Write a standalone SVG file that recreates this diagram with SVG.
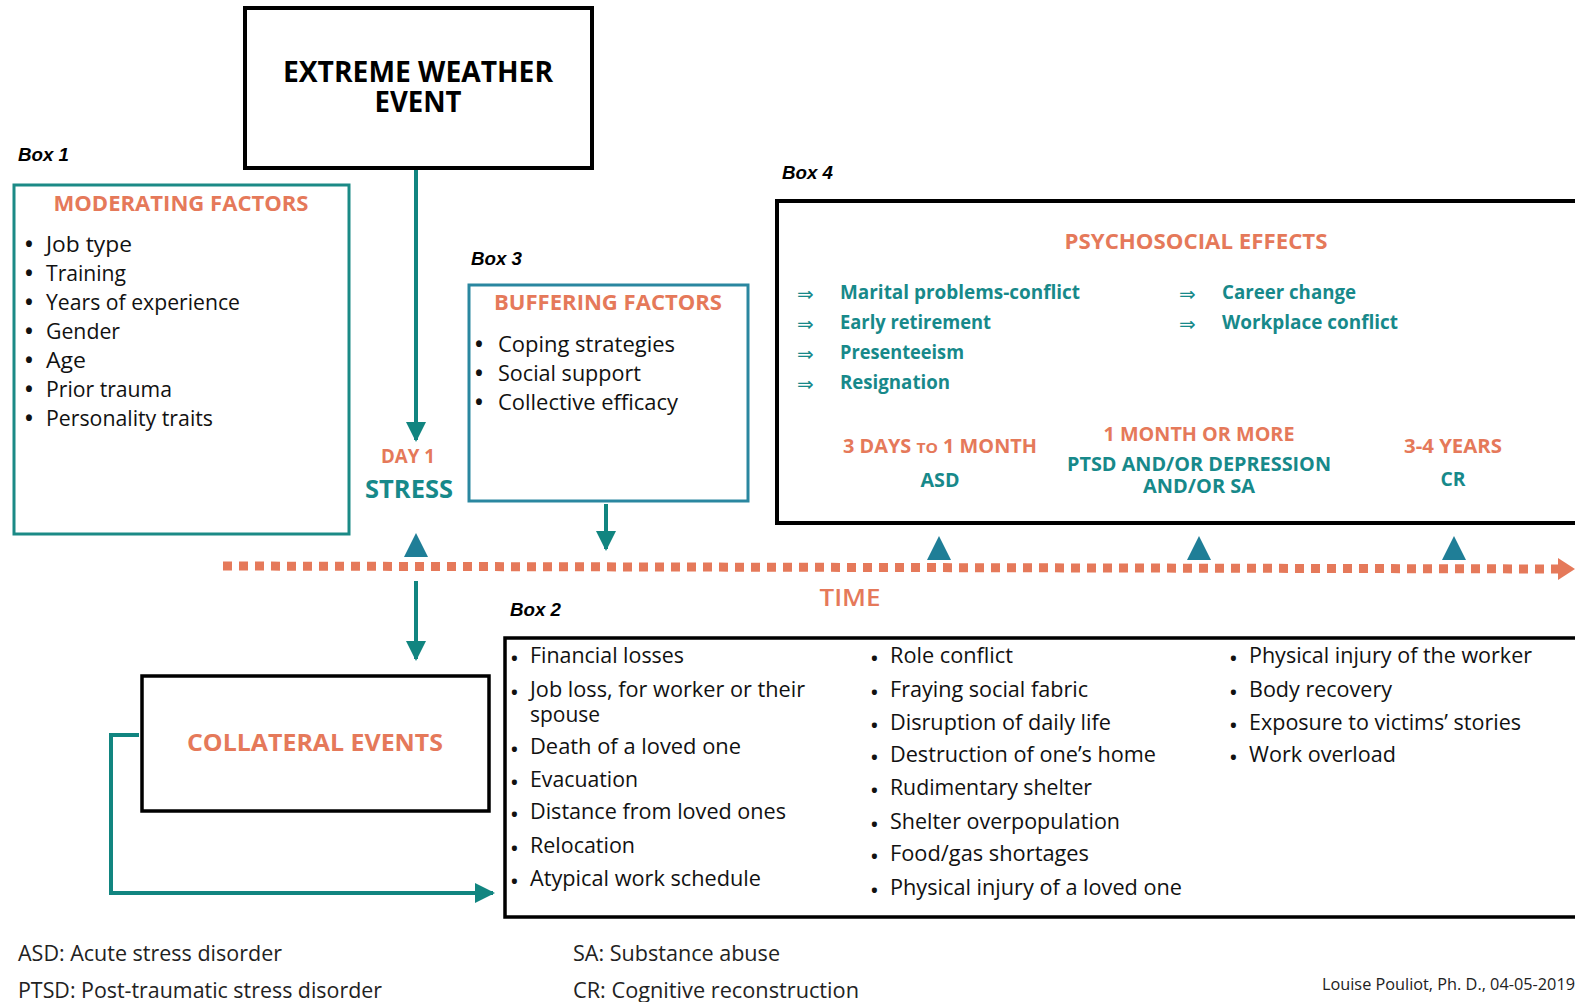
<svg xmlns="http://www.w3.org/2000/svg" width="1575" height="1002" viewBox="0 0 1575 1002">
<style>
  text { font-family: "Open Sans", "Noto Sans", "DejaVu Sans", sans-serif; }
  .lbl { font-family: "Liberation Sans", Arial, sans-serif; font-weight: bold; font-style: italic; font-size: 19px; fill: #000; }
  .title { font-weight: bold; font-size: 28px; fill: #000; }
  .hd { font-weight: bold; font-size: 21px; fill: #e5795a; }
  .item { font-size: 22px; fill: #111; }
  .bul { font-size: 21px; font-weight: bold; fill: #111; }
  .bul2 { font-size: 18px; font-weight: bold; fill: #111; }
  .eff { font-weight: bold; font-size: 19px; fill: #17898a; }
  .arr { font-size: 20px; fill: #17898a; }
  .tco { font-weight: bold; font-size: 19px; fill: #e5795a; }
  .tte { font-weight: bold; font-size: 19px; fill: #17898a; }
  .leg { font-size: 21px; fill: #222; }
  .blk { fill: none; stroke: #000; }
  .conn { stroke: #118580; stroke-width: 4; fill: none; }
  .tri { fill: #1f7e97; }
</style>
<defs>
  <marker id="ah" viewBox="0 0 10 10" refX="9" refY="5" markerWidth="5" markerHeight="5" orient="auto" markerUnits="strokeWidth">
    <path d="M0,0 L10,5 L0,10 z" fill="#118580"/>
  </marker>
</defs>
<rect width="1575" height="1002" fill="#fff"/>

<!-- Connectors -->
<g id="connectors">
  <line class="conn" x1="416" y1="170" x2="416" y2="440" marker-end="url(#ah)"/>
  <line class="conn" x1="606" y1="504" x2="606" y2="549" marker-end="url(#ah)"/>
  <line class="conn" x1="416" y1="581" x2="416" y2="659" marker-end="url(#ah)"/>
  <polyline class="conn" points="139,735 111,735 111,893 493,893" marker-end="url(#ah)"/>
  <!-- timeline -->
  <line x1="223" y1="566" x2="1560" y2="569" stroke="#e5795a" stroke-width="9" stroke-dasharray="9 7"/>
  <polygon points="1558,558 1575,569 1558,580" fill="#e5795a"/>
  <polygon class="tri" points="416,533 404,557 428,557"/>
  <polygon class="tri" points="939,536 927,560 951,560"/>
  <polygon class="tri" points="1199,536 1187,560 1211,560"/>
  <polygon class="tri" points="1454,536 1442,560 1466,560"/>
</g>

<!-- Extreme weather event -->
<g id="extreme-weather">
  <rect class="blk" x="245" y="8" width="347" height="160" stroke-width="4"/>
  <text class="title" x="418" y="82" text-anchor="middle" textLength="270" lengthAdjust="spacingAndGlyphs">EXTREME WEATHER</text>
  <text class="title" x="418" y="112" text-anchor="middle" textLength="87" lengthAdjust="spacingAndGlyphs">EVENT</text>
</g>

<!-- Box 1 -->
<g id="box1">
  <text class="lbl" x="18" y="161" textLength="51" lengthAdjust="spacingAndGlyphs">Box 1</text>
  <rect x="14" y="185" width="335" height="349" fill="none" stroke="#1b8a86" stroke-width="3"/>
  <text class="hd" x="181" y="211" text-anchor="middle" textLength="255" lengthAdjust="spacingAndGlyphs">MODERATING FACTORS</text>
  <g>
    <text class="bul" x="25" y="252">•</text><text class="item" x="46" y="252" textLength="86" lengthAdjust="spacingAndGlyphs">Job type</text>
    <text class="bul" x="25" y="281">•</text><text class="item" x="46" y="281" textLength="80" lengthAdjust="spacingAndGlyphs">Training</text>
    <text class="bul" x="25" y="310">•</text><text class="item" x="46" y="310" textLength="194" lengthAdjust="spacingAndGlyphs">Years of experience</text>
    <text class="bul" x="25" y="339">•</text><text class="item" x="46" y="339" textLength="74" lengthAdjust="spacingAndGlyphs">Gender</text>
    <text class="bul" x="25" y="368">•</text><text class="item" x="46" y="368" textLength="40" lengthAdjust="spacingAndGlyphs">Age</text>
    <text class="bul" x="25" y="397">•</text><text class="item" x="46" y="397" textLength="126" lengthAdjust="spacingAndGlyphs">Prior trauma</text>
    <text class="bul" x="25" y="426">•</text><text class="item" x="46" y="426" textLength="167" lengthAdjust="spacingAndGlyphs">Personality traits</text>
  </g>
</g>

<!-- Day 1 stress -->
<g id="stress">
  <text class="tco" x="408" y="463" text-anchor="middle" font-size="18" textLength="54" lengthAdjust="spacingAndGlyphs">DAY 1</text>
  <text x="409" y="498" text-anchor="middle" font-weight="bold" font-size="25" fill="#17898a" textLength="88" lengthAdjust="spacingAndGlyphs">STRESS</text>
</g>

<!-- Box 3 -->
<g id="box3">
  <text class="lbl" x="471" y="265" textLength="51" lengthAdjust="spacingAndGlyphs">Box 3</text>
  <rect x="469" y="285" width="279" height="216" fill="none" stroke="#2a87a0" stroke-width="3"/>
  <text class="hd" x="608" y="310" text-anchor="middle" textLength="228" lengthAdjust="spacingAndGlyphs">BUFFERING FACTORS</text>
  <text class="bul" x="475" y="352">•</text><text class="item" x="498" y="352" textLength="177" lengthAdjust="spacingAndGlyphs">Coping strategies</text>
  <text class="bul" x="475" y="381">•</text><text class="item" x="498" y="381" textLength="143" lengthAdjust="spacingAndGlyphs">Social support</text>
  <text class="bul" x="475" y="410">•</text><text class="item" x="498" y="410" textLength="180" lengthAdjust="spacingAndGlyphs">Collective efficacy</text>
</g>

<!-- Box 4 -->
<g id="box4">
  <text class="lbl" x="782" y="179" textLength="51" lengthAdjust="spacingAndGlyphs">Box 4</text>
  <rect class="blk" x="777" y="201" width="810" height="322" stroke-width="4"/>
  <text class="hd" x="1196" y="249" text-anchor="middle" textLength="263" lengthAdjust="spacingAndGlyphs">PSYCHOSOCIAL EFFECTS</text>
  <text class="arr" x="797" y="301">⇒</text><text class="eff" x="840" y="299" textLength="240" lengthAdjust="spacingAndGlyphs">Marital problems-conflict</text>
  <text class="arr" x="797" y="331">⇒</text><text class="eff" x="840" y="329" textLength="151" lengthAdjust="spacingAndGlyphs">Early retirement</text>
  <text class="arr" x="797" y="361">⇒</text><text class="eff" x="840" y="359" textLength="124" lengthAdjust="spacingAndGlyphs">Presenteeism</text>
  <text class="arr" x="797" y="391">⇒</text><text class="eff" x="840" y="389" textLength="110" lengthAdjust="spacingAndGlyphs">Resignation</text>
  <text class="arr" x="1179" y="301">⇒</text><text class="eff" x="1222" y="299" textLength="134" lengthAdjust="spacingAndGlyphs">Career change</text>
  <text class="arr" x="1179" y="331">⇒</text><text class="eff" x="1222" y="329" textLength="176" lengthAdjust="spacingAndGlyphs">Workplace conflict</text>

  <text class="tco" x="940" y="453" text-anchor="middle" textLength="194" lengthAdjust="spacingAndGlyphs">3 DAYS <tspan font-size="15">TO</tspan> 1 MONTH</text>
  <text class="tte" x="940" y="487" text-anchor="middle" textLength="39" lengthAdjust="spacingAndGlyphs">ASD</text>
  <text class="tco" x="1199" y="441" text-anchor="middle" textLength="191" lengthAdjust="spacingAndGlyphs">1 MONTH OR MORE</text>
  <text class="tte" x="1199" y="471" text-anchor="middle" textLength="264" lengthAdjust="spacingAndGlyphs">PTSD AND/OR DEPRESSION</text>
  <text class="tte" x="1199" y="493" text-anchor="middle" textLength="112" lengthAdjust="spacingAndGlyphs">AND/OR SA</text>
  <text class="tco" x="1453" y="453" text-anchor="middle" textLength="98" lengthAdjust="spacingAndGlyphs">3-4 YEARS</text>
  <text class="tte" x="1453" y="486" text-anchor="middle" textLength="25" lengthAdjust="spacingAndGlyphs">CR</text>
</g>

<!-- Time label -->
<g id="time">
  <text x="850" y="606" text-anchor="middle" font-size="23" font-weight="600" fill="#e5795a" textLength="61" lengthAdjust="spacingAndGlyphs">TIME</text>
</g>

<!-- Collateral events -->
<g id="collateral-events">
  <rect class="blk" x="142" y="676" width="347" height="135" stroke-width="3.5"/>
  <text x="315" y="751" text-anchor="middle" font-weight="bold" font-size="23" fill="#e5795a" textLength="256" lengthAdjust="spacingAndGlyphs">COLLATERAL EVENTS</text>
</g>

<!-- Box 2 -->
<g id="box2">
  <text class="lbl" x="510" y="616" textLength="51" lengthAdjust="spacingAndGlyphs">Box 2</text>
  <rect class="blk" x="505" y="638" width="1080" height="279" stroke-width="3.5"/>
  <g>
    <text class="bul2" x="511" y="665">•</text><text class="item" x="530" y="663" textLength="154" lengthAdjust="spacingAndGlyphs">Financial losses</text>
    <text class="bul2" x="511" y="699">•</text><text class="item" x="530" y="697" textLength="275" lengthAdjust="spacingAndGlyphs">Job loss, for worker or their</text>
    <text class="item" x="530" y="722" textLength="70" lengthAdjust="spacingAndGlyphs">spouse</text>
    <text class="bul2" x="511" y="756">•</text><text class="item" x="530" y="754" textLength="211" lengthAdjust="spacingAndGlyphs">Death of a loved one</text>
    <text class="bul2" x="511" y="789">•</text><text class="item" x="530" y="787" textLength="108" lengthAdjust="spacingAndGlyphs">Evacuation</text>
    <text class="bul2" x="511" y="821">•</text><text class="item" x="530" y="819" textLength="256" lengthAdjust="spacingAndGlyphs">Distance from loved ones</text>
    <text class="bul2" x="511" y="855">•</text><text class="item" x="530" y="853" textLength="105" lengthAdjust="spacingAndGlyphs">Relocation</text>
    <text class="bul2" x="511" y="888">•</text><text class="item" x="530" y="886" textLength="231" lengthAdjust="spacingAndGlyphs">Atypical work schedule</text>
  </g>
  <g>
    <text class="bul2" x="871" y="665">•</text><text class="item" x="890" y="663" textLength="123" lengthAdjust="spacingAndGlyphs">Role conflict</text>
    <text class="bul2" x="871" y="699">•</text><text class="item" x="890" y="697" textLength="198" lengthAdjust="spacingAndGlyphs">Fraying social fabric</text>
    <text class="bul2" x="871" y="732">•</text><text class="item" x="890" y="730" textLength="221" lengthAdjust="spacingAndGlyphs">Disruption of daily life</text>
    <text class="bul2" x="871" y="764">•</text><text class="item" x="890" y="762" textLength="266" lengthAdjust="spacingAndGlyphs">Destruction of one’s home</text>
    <text class="bul2" x="871" y="797">•</text><text class="item" x="890" y="795" textLength="202" lengthAdjust="spacingAndGlyphs">Rudimentary shelter</text>
    <text class="bul2" x="871" y="831">•</text><text class="item" x="890" y="829" textLength="230" lengthAdjust="spacingAndGlyphs">Shelter overpopulation</text>
    <text class="bul2" x="871" y="863">•</text><text class="item" x="890" y="861" textLength="199" lengthAdjust="spacingAndGlyphs">Food/gas shortages</text>
    <text class="bul2" x="871" y="897">•</text><text class="item" x="890" y="895" textLength="292" lengthAdjust="spacingAndGlyphs">Physical injury of a loved one</text>
  </g>
  <g>
    <text class="bul2" x="1230" y="665">•</text><text class="item" x="1249" y="663" textLength="283" lengthAdjust="spacingAndGlyphs">Physical injury of the worker</text>
    <text class="bul2" x="1230" y="699">•</text><text class="item" x="1249" y="697" textLength="143" lengthAdjust="spacingAndGlyphs">Body recovery</text>
    <text class="bul2" x="1230" y="732">•</text><text class="item" x="1249" y="730" textLength="272" lengthAdjust="spacingAndGlyphs">Exposure to victims’ stories</text>
    <text class="bul2" x="1230" y="764">•</text><text class="item" x="1249" y="762" textLength="147" lengthAdjust="spacingAndGlyphs">Work overload</text>
  </g>
</g>

<!-- Legend -->
<g id="legend">
  <text class="leg" x="18" y="961" textLength="264" lengthAdjust="spacingAndGlyphs">ASD: Acute stress disorder</text>
  <text class="leg" x="18" y="998" textLength="364" lengthAdjust="spacingAndGlyphs">PTSD: Post-traumatic stress disorder</text>
  <text class="leg" x="573" y="961" textLength="207" lengthAdjust="spacingAndGlyphs">SA: Substance abuse</text>
  <text class="leg" x="573" y="998" textLength="286" lengthAdjust="spacingAndGlyphs">CR: Cognitive reconstruction</text>
  <text x="1322" y="990" font-size="16" fill="#222" textLength="253" lengthAdjust="spacingAndGlyphs">Louise Pouliot, Ph. D., 04-05-2019</text>
</g>
</svg>
